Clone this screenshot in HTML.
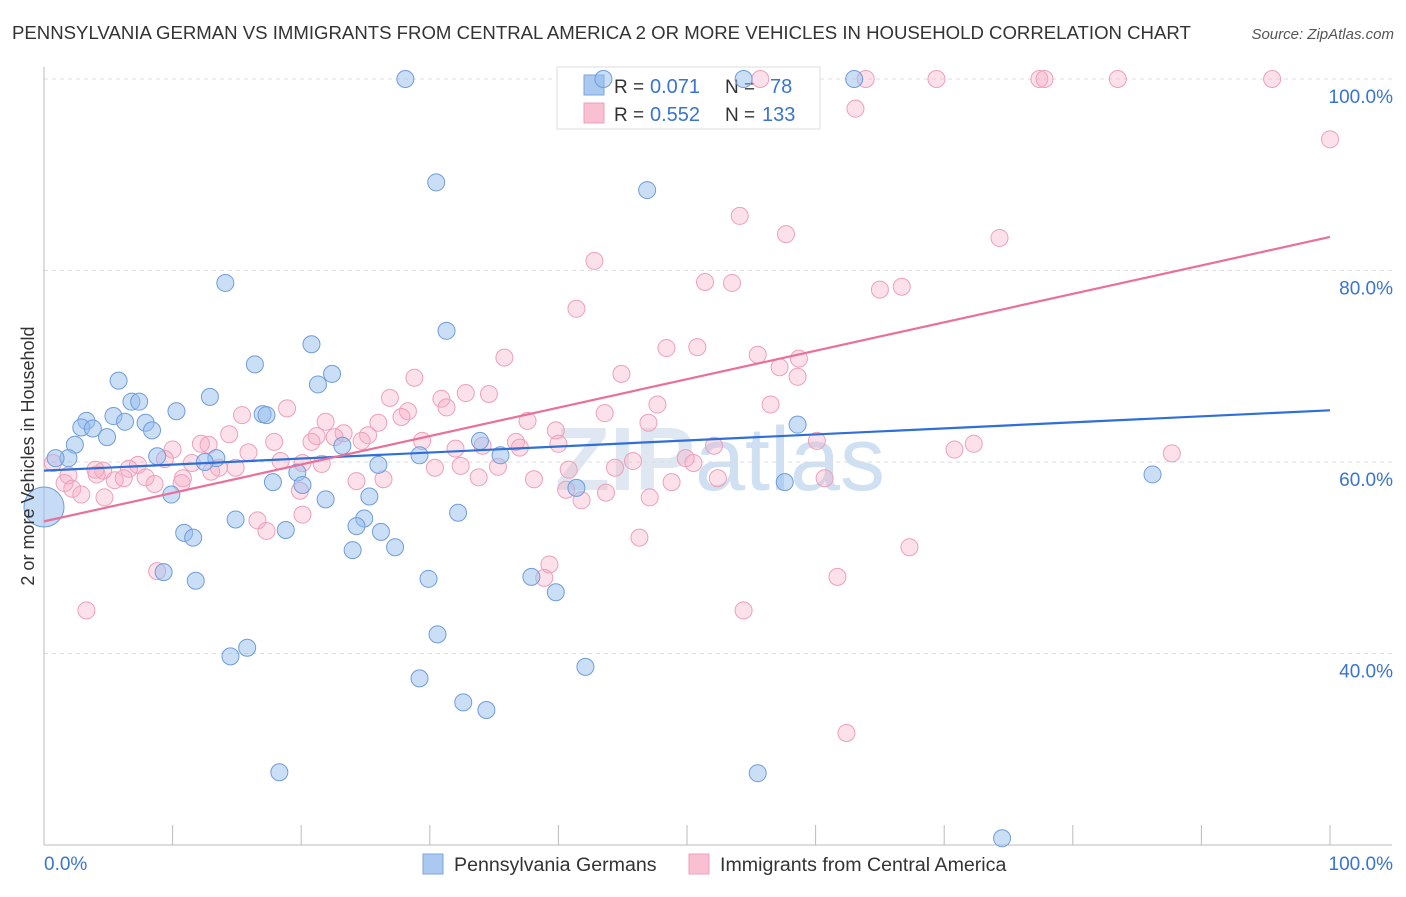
<!DOCTYPE html>
<html><head><meta charset="utf-8">
<style>
body{margin:0;background:#fff;font-family:"Liberation Sans",sans-serif;}
svg text{font-family:"Liberation Sans",sans-serif;}
</style></head>
<body>
<svg id="chart" width="1406" height="892" viewBox="0 0 1406 892" xmlns="http://www.w3.org/2000/svg">
<text x="12" y="39" font-size="18.6" fill="#333">PENNSYLVANIA GERMAN VS IMMIGRANTS FROM CENTRAL AMERICA 2 OR MORE VEHICLES IN HOUSEHOLD CORRELATION CHART</text>
<text x="1394" y="39" font-size="15" fill="#555" font-style="italic" text-anchor="end">Source: ZipAtlas.com</text>
<text x="720" y="490" font-size="90" fill="#dfe8f2" text-anchor="middle" font-weight="bold">ZIP<tspan fill="#cfe0f3" font-weight="normal">atlas</tspan></text>
<g id="grid"></g>
<g id="axes"></g>
<g>
<rect x="557" y="67" width="263" height="62" fill="#fff" stroke="#ddd"/>
<rect x="584" y="75" width="20" height="20" fill="#aac8f0" stroke="#7aa6de"/>
<rect x="584" y="103" width="20" height="20" fill="#f8c0d0" stroke="#eea0b8"/>
<text x="614" y="93" font-size="19" fill="#333">R =</text>
<text x="650" y="93" font-size="20" fill="#3a74d0">0.071</text>
<text x="725" y="93" font-size="19" fill="#333">N =</text>
<text x="770" y="93" font-size="20" fill="#3a74d0">78</text>
<text x="614" y="121" font-size="19" fill="#333">R =</text>
<text x="650" y="121" font-size="20" fill="#3a74d0">0.552</text>
<text x="725" y="121" font-size="19" fill="#333">N =</text>
<text x="762" y="121" font-size="20" fill="#3a74d0">133</text>
</g>
<g id="pink"></g>
<g id="blue"></g>
<g id="trends"></g>
<text transform="translate(34,456) rotate(-90)" font-size="18" fill="#333" text-anchor="middle">2 or more Vehicles in Household</text>
<text x="44" y="870" font-size="19" fill="#3a74d0">0.0%</text>
<text x="1393" y="870" font-size="19" fill="#3a74d0" text-anchor="end">100.0%</text>
<g>
<rect x="423" y="854" width="20" height="20" fill="#aac8f0" stroke="#7aa6de"/>
<text x="454" y="871" font-size="19.6" fill="#333">Pennsylvania Germans</text>
</g>
<g>
<rect x="689" y="854" width="20" height="20" fill="#f8c0d0" stroke="#eea0b8"/>
<text x="720" y="871" font-size="19.6" fill="#333">Immigrants from Central America</text>
</g>
</svg>
<script>
const yTicks=[100,80,60,40];
const yTickLabels=["100.0%","80.0%","60.0%","40.0%"];
const blueX=[28.1,43.5,54.4,63.0,30.5,46.9,14.1,31.3,20.8,16.4,22.4,21.3,5.8,6.8,7.4,12.9,10.3,17.0,17.3,3.3,5.4,6.3,7.9,2.9,3.8,4.9,8.4,2.4,1.9,0.9,8.8,23.2,33.9,35.5,29.2,58.6,13.4,12.5,26.0,19.7,17.8,20.1,9.9,21.9,25.3,41.4,57.6,86.2,32.2,14.9,24.9,24.3,18.8,26.2,10.9,11.6,24.0,27.3,9.3,11.8,29.9,37.9,39.8,15.8,14.5,30.6,42.1,29.2,32.6,34.4,18.3,55.5,74.5];
const blueY=[100,100,100,100,89.2,88.4,78.7,73.7,72.3,70.2,69.2,68.1,68.5,66.3,66.3,66.8,65.3,65.0,64.9,64.3,64.8,64.2,64.1,63.6,63.5,62.6,63.3,61.8,60.4,60.4,60.6,61.7,62.2,60.7,60.7,63.9,60.4,60.0,59.7,58.9,57.9,57.6,56.6,56.1,56.4,57.3,57.9,58.7,54.7,54.0,54.1,53.3,52.9,52.7,52.6,52.1,50.8,51.1,48.5,47.6,47.8,48.0,46.4,40.6,39.7,42.0,38.6,37.4,34.9,34.1,27.6,27.5,20.7];
const blueBig=[0,55.3];
const pinkX=[55.7,63.9,69.4,77.4,77.8,83.5,95.5,63.1,100,54.1,57.7,74.3,42.8,51.4,53.5,66.7,65.0,41.4,48.4,50.8,55.5,58.7,35.8,57.2,58.6,44.9,28.8,26.9,32.8,34.6,30.9,31.3,56.5,47.7,15.4,18.9,28.3,27.8,43.6,37.6,47.0,21.9,26.0,39.8,23.3,25.2,22.6,14.4,21.2,12.8,29.4,40.0,17.9,24.7,20.8,34.1,52.1,12.2,32.0,36.7,37.0,60.1,72.3,70.8,10.0,15.9,9.4,7.3,6.6,11.5,18.4,20.1,21.6,4.6,4.1,13.6,14.9,0.7,1.9,4.0,7.9,10.8,5.5,6.2,1.6,13.0,30.4,32.4,35.3,45.8,49.9,50.5,40.8,44.4,87.7,2.2,4.7,2.9,8.6,10.7,19.9,24.3,26.4,33.8,38.1,52.4,60.7,48.8,40.6,43.7,47.1,41.8,16.6,20.1,17.3,46.3,67.3,8.8,39.3,38.9,61.7,3.3,54.4,62.4];
const pinkY=[100,100,100,100,100,100,100,96.9,93.7,85.7,83.8,83.4,81.0,78.8,78.7,78.3,78.0,76.0,71.9,72.0,71.2,70.8,70.9,69.9,68.9,69.2,68.8,66.7,67.2,67.1,66.6,65.7,66.0,66.0,64.9,65.6,65.3,64.7,65.1,64.3,64.1,64.2,64.1,63.3,63.0,62.8,62.6,62.9,62.7,61.8,62.2,61.9,62.1,62.2,62.1,61.7,61.7,61.9,61.4,62.1,61.5,62.2,61.9,61.3,61.3,61.0,60.3,59.7,59.3,59.9,60.1,59.9,59.8,59.1,58.7,59.4,59.4,59.9,58.6,59.2,58.4,58.3,58.1,58.3,57.8,59.0,59.4,59.6,59.5,60.1,60.4,59.9,59.2,59.4,60.9,57.2,56.3,56.6,57.7,57.8,57.0,58.0,58.2,58.4,58.2,58.3,58.3,57.9,57.1,56.8,56.3,56.0,53.9,54.5,52.8,52.1,51.1,48.6,49.3,47.9,48.0,44.5,44.5,31.7];
const blueTrend=[59.1,65.4];
const pinkTrend=[53.8,83.5];

const NS="http://www.w3.org/2000/svg";
const X0=44,X1=1330,Y100=79,YPER=9.575;
function xs(v){return X0+(X1-X0)*v/100;}
function ys(v){return Y100+(100-v)*YPER;}
function mk(tag,attrs,parent){const e=document.createElementNS(NS,tag);for(const k in attrs)e.setAttribute(k,attrs[k]);parent.appendChild(e);return e;}
const grid=document.getElementById('grid');
yTicks.forEach((t,i)=>{
  const l=mk('line',{x1:44,x2:1392,y1:ys(t),y2:ys(t),stroke:'#ddd','stroke-dasharray':'4,4'},grid);
  
  
  const tx=mk('text',{x:1393,y:ys(t)+24,'font-size':19,fill:'#3a74d0','text-anchor':'end'},grid);
  tx.textContent=yTickLabels[i];
  
  
});
const axes=document.getElementById('axes');
const xa=mk('line',{x1:44,x2:1392,y1:845,y2:845,stroke:'#bbb'},axes);


const ya=mk('line',{x1:44,x2:44,y1:67,y2:845,stroke:'#bbb'},axes);


for(let i=0;i<=10;i++){
  const t=mk('line',{x1:xs(i*10),x2:xs(i*10),y1:825,y2:845,stroke:'#bbb'},axes);
  
  
}
const pg=document.getElementById('pink');
pinkX.forEach((v,i)=>{
  const c=mk('circle',{cx:xs(v),cy:ys(pinkY[i]),r:8.5,fill:'rgba(246,170,195,0.35)',stroke:'#eda0ba','stroke-width':1},pg);
  
  
});
const bg=document.getElementById('blue');
blueX.forEach((v,i)=>{
  const c=mk('circle',{cx:xs(v),cy:ys(blueY[i]),r:8.5,fill:'rgba(150,190,238,0.5)',stroke:'#6f9ddb','stroke-width':1},bg);
  
  
});
const big=mk('circle',{cx:xs(blueBig[0]),cy:ys(blueBig[1]),r:20,fill:'rgba(150,190,238,0.55)',stroke:'#6f9ddb'},bg);


const tg=document.getElementById('trends');
const bt=mk('line',{x1:xs(0),y1:ys(blueTrend[0]),x2:xs(100),y2:ys(blueTrend[1]),stroke:'#2f6fd6','stroke-width':2.2},tg);


const pt=mk('line',{x1:xs(0),y1:ys(pinkTrend[0]),x2:xs(100),y2:ys(pinkTrend[1]),stroke:'#e8709a','stroke-width':2.2},tg);


</script>
</body></html>
